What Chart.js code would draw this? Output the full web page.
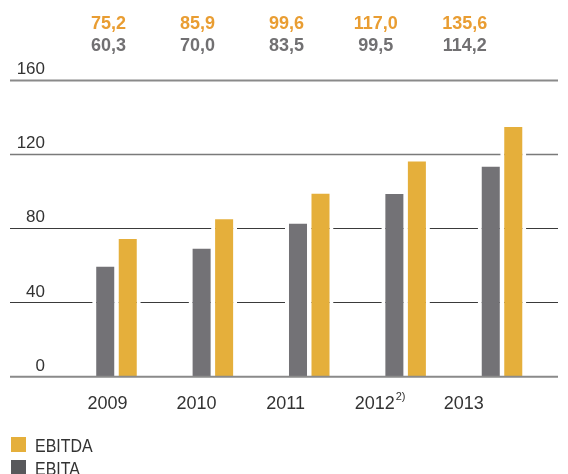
<!DOCTYPE html>
<html>
<head>
<meta charset="utf-8">
<script src="https://cdn.jsdelivr.net/npm/chart.js@4"></script>
<style>
  html, body { margin: 0; padding: 0; background: #fff; }
  canvas { display: block; }
</style>
</head>
<body>
<canvas id="chart" width="568" height="474"></canvas>
<script>
var categories = ['2009', '2010', '2011', '2012', '2013'];
var footnotes = ['', '', '', '2)', ''];
var ebitda = [75.2, 85.9, 99.6, 117.0, 135.6];
var ebita = [60.3, 70.0, 83.5, 99.5, 114.2];
var yTicks = [0, 40, 80, 120, 160];

var orange = '#e5af3b';
var orangeText = '#e99d32';
var grey = '#737276';
var greyText = '#717072';
var greyLegend = '#58585b';

function fmt(v) {
  return v.toFixed(1).replace('.', ',');
}

// text columns sit on a slightly tighter grid than the bars
function colX(chart, i) {
  var x = chart.scales.x.getPixelForValue(i);
  return 107.5 + (x - 116.5) * 0.924;
}

var decor = {
  id: 'decor',
  beforeDatasetsDraw: function (chart) {
    var ctx = chart.ctx;
    var y = chart.scales.y;
    ctx.save();
    yTicks.forEach(function (t) {
      if (t === 0) return;
      var py = Math.round(y.getPixelForValue(t)) + 0.5;
      ctx.beginPath();
      ctx.moveTo(10, py);
      ctx.lineTo(558, py);
      if (t === 160) {
        ctx.strokeStyle = '#8a8a8a';
        ctx.lineWidth = 2;
      } else if (t === 120) {
        ctx.strokeStyle = '#7a7a7a';
        ctx.lineWidth = 1.5;
      } else {
        ctx.strokeStyle = '#3a3a3a';
        ctx.lineWidth = 1;
      }
      ctx.stroke();
    });
    ctx.restore();
  },
  afterDatasetsDraw: function (chart) {
    var ctx = chart.ctx;
    var y = chart.scales.y;
    ctx.save();
    // baseline
    var p0 = y.getPixelForValue(0);
    ctx.beginPath();
    ctx.moveTo(10, p0);
    ctx.lineTo(558, p0);
    ctx.strokeStyle = '#8a8a8a';
    ctx.lineWidth = 2;
    ctx.stroke();

    // y tick labels
    ctx.fillStyle = '#333';
    ctx.font = '17px "Liberation Sans", Arial, sans-serif';
    ctx.textAlign = 'right';
    ctx.textBaseline = 'alphabetic';
    yTicks.forEach(function (t) {
      ctx.fillText(String(t), 45, y.getPixelForValue(t) - 6);
    });

    // value rows
    ctx.textAlign = 'center';
    for (var i = 0; i < categories.length; i++) {
      var cx = colX(chart, i) + 1;
      ctx.font = 'bold 18px "Liberation Sans", Arial, sans-serif';
      ctx.fillStyle = orangeText;
      ctx.fillText(fmt(ebitda[i]), cx, 28.5);
      ctx.fillStyle = greyText;
      ctx.fillText(fmt(ebita[i]), cx, 51);
    }

    // category labels
    ctx.fillStyle = '#333';
    for (var j = 0; j < categories.length; j++) {
      var lx = colX(chart, j);
      ctx.font = '18px "Liberation Sans", Arial, sans-serif';
      ctx.textAlign = 'center';
      ctx.fillText(categories[j], lx, 408.5);
      if (footnotes[j]) {
        var w = ctx.measureText(categories[j]).width;
        ctx.font = '11px "Liberation Sans", Arial, sans-serif';
        ctx.textAlign = 'left';
        ctx.fillText(footnotes[j], lx + w / 2 + 1, 400);
      }
    }

    // legend (condensed look)
    var items = [
      { label: chart.data.datasets[1].label, color: orange },
      { label: chart.data.datasets[0].label, color: greyLegend }
    ];
    ctx.textAlign = 'left';
    ctx.font = '19px "Liberation Sans", Arial, sans-serif';
    items.forEach(function (it, k) {
      var top = 437 + k * 23;
      ctx.fillStyle = it.color;
      ctx.fillRect(11, top, 15, 15);
      ctx.fillStyle = '#333';
      ctx.save();
      ctx.translate(35, top + 15);
      ctx.scale(0.84, 1);
      ctx.fillText(it.label, 0, 0);
      ctx.restore();
    });
    ctx.restore();
  }
};

var ctx = document.getElementById('chart').getContext('2d');
var chart = new Chart(ctx, {
  type: 'bar',
  data: {
    labels: categories,
    datasets: [{
      label: 'EBITA',
      data: ebita,
      backgroundColor: grey,
      borderColor: '#ffffff',
      borderWidth: { left: 4, right: 4, top: 2, bottom: 0 },
      borderSkipped: false,
      categoryPercentage: 0.467,
      barPercentage: 1.156
    }, {
      label: 'EBITDA',
      data: ebitda,
      backgroundColor: orange,
      borderColor: '#ffffff',
      borderWidth: { left: 4, right: 4, top: 2, bottom: 0 },
      borderSkipped: false,
      categoryPercentage: 0.467,
      barPercentage: 1.156
    }]
  },
  options: {
    responsive: false,
    animation: false,
    layout: {
      padding: { left: 68.3, right: 17.8, top: 79.6, bottom: 97.2 }
    },
    plugins: {
      legend: { display: false },
      tooltip: { enabled: false }
    },
    scales: {
      x: { display: false, offset: true },
      y: { display: false, min: 0, max: 160 }
    }
  },
  plugins: [decor]
});
</script>
</body>
</html>
